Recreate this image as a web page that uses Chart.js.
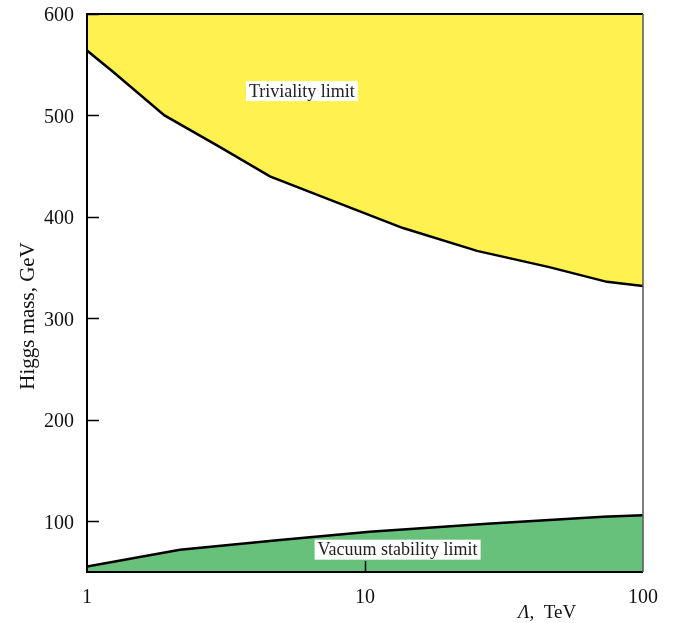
<!DOCTYPE html>
<html>
<head>
<meta charset="utf-8">
<script src="https://cdn.jsdelivr.net/npm/chart.js@4/dist/chart.umd.min.js"></script>
<style>
  html, body { margin: 0; padding: 0; background: #fff; }
  canvas { display: block; }
</style>
</head>
<body>
<canvas id="higgs" width="675" height="623"></canvas>
<script>
// Upper bound on the Higgs mass (triviality), Lambda in TeV vs mass in GeV
const trivLambda = [1, 1.24, 1.9, 3.0, 4.55, 7.3, 13.7, 25.3, 46, 74.2, 100];
const trivMass   = [564, 543, 500, 469, 440, 418, 389, 366.5, 350.5, 336, 332];

// Lower bound from vacuum stability
const vacLambda = [1, 2.16, 4.94, 10.4, 27.5, 71.8, 100];
const vacMass   = [55.5, 71.9, 81.6, 89.7, 97.5, 104.4, 106];

const xTicks = [1, 10, 100];
const yTicks = [100, 200, 300, 400, 500, 600];

// Region labels: [text, lambda, mass]
const regionLabels = [
  ['Triviality limit', 5.93, 524],
  ['Vacuum stability limit', 13.1, 72]
];

const SERIF = '"Liberation Serif", "DejaVu Serif", serif';
const YELLOW = '#fff150';
const GREEN = '#67c17b';

const toPoints = (xs, ys) => xs.map((x, i) => ({ x: x, y: ys[i] }));

// frame, inward ticks, region labels and axis titles
const decorations = {
  id: 'decorations',
  afterDatasetsDraw(chart) {
    const { ctx, chartArea: a, scales: { x, y } } = chart;
    ctx.save();

    // inward tick marks
    ctx.strokeStyle = '#000';
    ctx.lineWidth = 1.5;
    yTicks.forEach(v => {
      const py = Math.round(y.getPixelForValue(v)) + 0.5;
      ctx.beginPath();
      ctx.moveTo(a.left, py);
      ctx.lineTo(a.left + 12, py);
      ctx.stroke();
    });
    xTicks.slice(1, -1).forEach(v => {
      const px = Math.round(x.getPixelForValue(v)) + 0.5;
      ctx.beginPath();
      ctx.moveTo(px, a.bottom);
      ctx.lineTo(px, a.bottom - 11);
      ctx.stroke();
    });

    // frame
    ctx.lineWidth = 2;
    ctx.strokeStyle = '#000';
    ctx.beginPath();
    ctx.moveTo(a.right, a.top);
    ctx.lineTo(a.left, a.top);
    ctx.lineTo(a.left, a.bottom);
    ctx.lineTo(a.right, a.bottom);
    ctx.stroke();
    ctx.strokeStyle = '#555';
    ctx.lineWidth = 1.5;
    ctx.beginPath();
    ctx.moveTo(a.right, a.top);
    ctx.lineTo(a.right, a.bottom);
    ctx.stroke();

    // labels in white boxes
    ctx.font = '18px ' + SERIF;
    ctx.textAlign = 'center';
    ctx.textBaseline = 'middle';
    regionLabels.forEach(([text, lx, ly]) => {
      const px = x.getPixelForValue(lx);
      const py = y.getPixelForValue(ly);
      const w = ctx.measureText(text).width + 6;
      ctx.fillStyle = '#fff';
      ctx.fillRect(px - w / 2, py - 10, w, 20);
      ctx.fillStyle = '#222';
      ctx.fillText(text, px, py + 1);
    });

    // y title
    ctx.save();
    ctx.translate(34, 316);
    ctx.rotate(-Math.PI / 2);
    ctx.fillStyle = '#111';
    ctx.textBaseline = 'alphabetic';
    ctx.font = '21px ' + SERIF;
    ctx.fillText('Higgs mass, GeV', 0, 0);
    ctx.restore();

    // x title with italic Lambda
    ctx.textAlign = 'left';
    ctx.textBaseline = 'alphabetic';
    ctx.fillStyle = '#111';
    ctx.font = 'italic 19px ' + SERIF;
    const lam = '\u039B';
    ctx.fillText(lam, 518, 618);
    const lw = ctx.measureText(lam).width;
    ctx.font = '19px ' + SERIF;
    ctx.fillText(',  TeV', 518 + lw, 618);

    ctx.restore();
  }
};

new Chart(document.getElementById('higgs'), {
  type: 'line',
  data: {
    datasets: [{
      label: 'Triviality limit',
      data: toPoints(trivLambda, trivMass),
      borderColor: '#000',
      borderWidth: 2.5,
      backgroundColor: YELLOW,
      fill: 'end',
      pointRadius: 0,
      tension: 0
    }, {
      label: 'Vacuum stability limit',
      data: toPoints(vacLambda, vacMass),
      borderColor: '#000',
      borderWidth: 2.5,
      backgroundColor: GREEN,
      fill: 'start',
      pointRadius: 0,
      tension: 0
    }]
  },
  options: {
    responsive: false,
    animation: false,
    layout: { padding: { top: 14, right: 32, left: 0, bottom: 0 } },
    plugins: {
      legend: { display: false },
      tooltip: { enabled: false }
    },
    scales: {
      x: {
        type: 'logarithmic',
        min: 1,
        max: 100,
        grid: { display: false, drawTicks: false },
        border: { display: false },
        afterBuildTicks: scale => { scale.ticks = xTicks.map(v => ({ value: v })); },
        afterFit: scale => {
          scale.height = 51;
          scale.paddingLeft = 0;
          scale.paddingRight = 0;
        },
        ticks: {
          color: '#111',
          padding: 14,
          maxRotation: 0,
          font: { family: SERIF, size: 20 },
          callback: v => String(v)
        }
      },
      y: {
        type: 'linear',
        min: 50,
        max: 600,
        grid: { display: false, drawTicks: false },
        border: { display: false },
        afterBuildTicks: scale => { scale.ticks = yTicks.map(v => ({ value: v })); },
        afterFit: scale => {
          scale.width = 87;
          scale.paddingTop = 0;
          scale.paddingBottom = 0;
        },
        ticks: {
          color: '#111',
          padding: 13,
          labelOffset: 2,
          font: { family: SERIF, size: 20 },
          callback: v => String(v)
        }
      }
    }
  },
  plugins: [decorations]
});
</script>
</body>
</html>
